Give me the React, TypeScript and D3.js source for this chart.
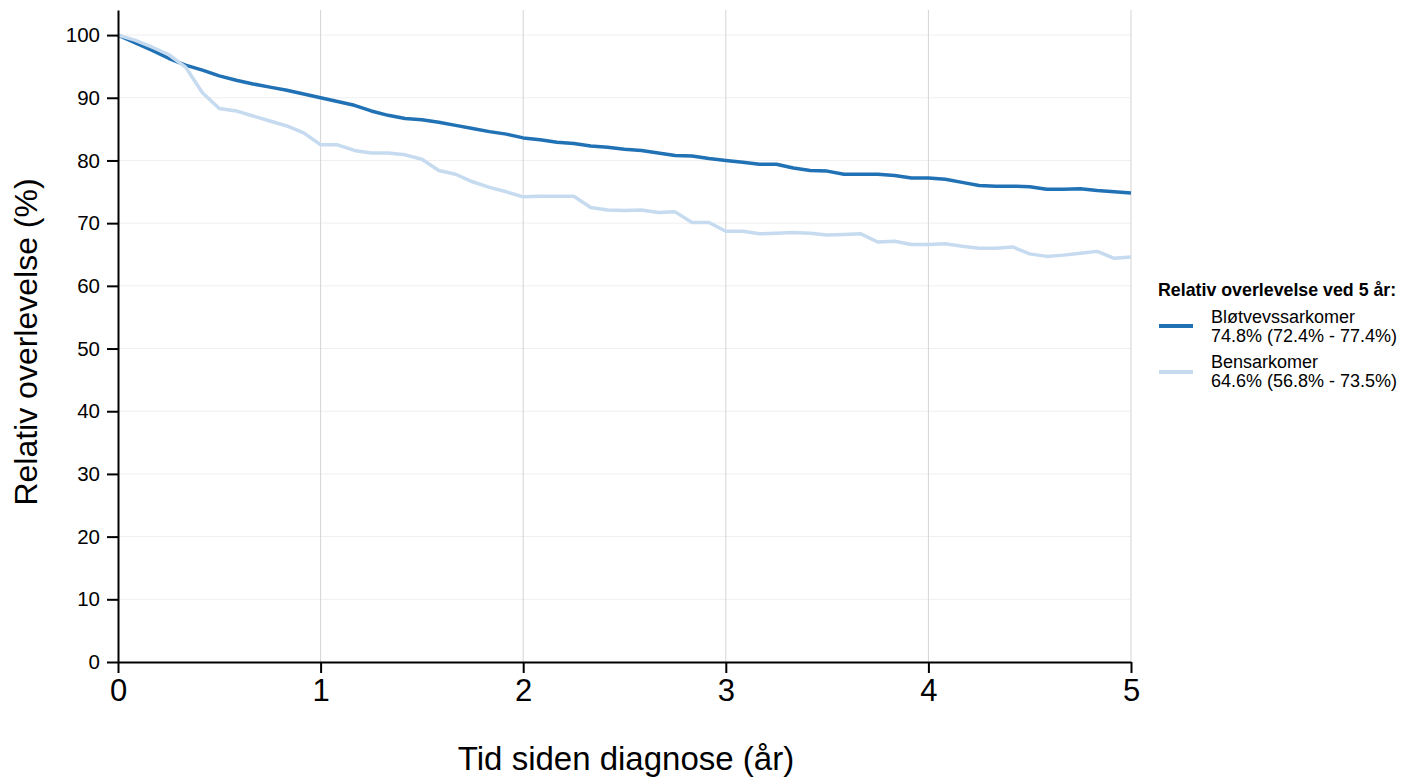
import React, { useEffect, useRef } from 'react';
import * as d3 from 'd3';

// months 0..60
const months = d3.range(0, 61);

const softTissue = [
  100, 98.8, 97.6, 96.3, 95.2, 94.4, 93.5, 92.8, 92.2, 91.7, 91.2, 90.6,
  90.0, 89.4, 88.8, 87.9, 87.2, 86.7, 86.5, 86.1, 85.6, 85.1, 84.6, 84.2,
  83.6, 83.3, 82.9, 82.7, 82.3, 82.1, 81.8, 81.6, 81.2, 80.8, 80.7, 80.3,
  80.0, 79.7, 79.4, 79.4, 78.8, 78.4, 78.3, 77.8, 77.8, 77.8, 77.6, 77.2,
  77.2, 77.0, 76.5, 76.0, 75.9, 75.9, 75.8, 75.4, 75.4, 75.5, 75.2, 75.0,
  74.8,
];

const bone = [
  100, 99.2, 98.1, 96.9, 94.9, 90.8, 88.3, 87.9, 87.1, 86.3, 85.5, 84.4,
  82.5, 82.5, 81.6, 81.2, 81.2, 80.9, 80.2, 78.4, 77.8, 76.6, 75.7, 75.0,
  74.2, 74.3, 74.3, 74.3, 72.5, 72.1, 72.0, 72.1, 71.7, 71.8, 70.1, 70.1,
  68.7, 68.7, 68.3, 68.4, 68.5, 68.4, 68.1, 68.2, 68.3, 67.0, 67.1, 66.6,
  66.6, 66.7, 66.3, 66.0, 66.0, 66.2, 65.1, 64.7, 64.9, 65.2, 65.5, 64.4,
  64.6,
];

const xTicks = [0, 1, 2, 3, 4, 5];
const yTicks = [0, 10, 20, 30, 40, 50, 60, 70, 80, 90, 100];

const seriesNames = ['Bløtvevssarkomer', 'Bensarkomer'];
const seriesLabels = ['74.8% (72.4% - 77.4%)', '64.6% (56.8% - 73.5%)'];
const seriesColors = ['#2171b5', '#c6dbef'];
const legendTitle = 'Relativ overlevelse ved 5 år:';

const FONT = '"Liberation Sans", Arial, Helvetica, sans-serif';

export default function App() {
  const svgRef = useRef<SVGSVGElement>(null);

  useEffect(() => {
    const svg = d3.select(svgRef.current);
    svg.selectAll('*').remove();

    const x = d3.scaleLinear().domain([0, 5]).range([118, 1131]);
    const y = d3.scaleLinear().domain([0, 104]).range([662, 10]);

    // horizontal grid
    svg
      .append('g')
      .selectAll('line')
      .data(yTicks.filter((d) => d > 0))
      .join('line')
      .attr('x1', x(0))
      .attr('x2', x(5))
      .attr('y1', (d) => y(d))
      .attr('y2', (d) => y(d))
      .attr('stroke', '#efefef')
      .attr('stroke-width', 1);

    // vertical grid
    svg
      .append('g')
      .selectAll('line')
      .data(xTicks.filter((d) => d > 0))
      .join('line')
      .attr('x1', (d) => x(d))
      .attr('x2', (d) => x(d))
      .attr('y1', y(104))
      .attr('y2', y(0))
      .attr('stroke', '#d4d4d4')
      .attr('stroke-width', 1);

    const line = d3
      .line<number>()
      .x((d, i) => x(months[i] / 12))
      .y((d) => y(d));

    [softTissue, bone].forEach((vals, i) => {
      svg
        .append('path')
        .datum(vals)
        .attr('fill', 'none')
        .attr('stroke', seriesColors[i])
        .attr('stroke-width', 3.5)
        .attr('stroke-linejoin', 'round')
        .attr('d', line);
    });

    // axes
    const xAxis = svg
      .append('g')
      .attr('transform', `translate(0,${y(0)})`)
      .call(d3.axisBottom(x).tickValues(xTicks).tickFormat(d3.format('d')).tickSize(11).tickSizeOuter(0).tickPadding(6));
    xAxis.select('.domain').attr('stroke', '#000').attr('stroke-width', 2);
    xAxis.selectAll('.tick line').attr('stroke', '#000').attr('stroke-width', 2);
    xAxis.selectAll('.tick text').attr('font-family', FONT).attr('font-size', 31).attr('fill', '#000');

    const yAxis = svg
      .append('g')
      .attr('transform', `translate(${x(0)},0)`)
      .call(d3.axisLeft(y).tickValues(yTicks).tickSize(11).tickSizeOuter(0).tickPadding(7));
    yAxis.select('.domain').attr('stroke', '#000').attr('stroke-width', 2);
    yAxis.selectAll('.tick line').attr('stroke', '#000').attr('stroke-width', 2);
    yAxis.selectAll('.tick text').attr('font-family', FONT).attr('font-size', 20.5).attr('fill', '#000');

    // axis titles
    svg
      .append('text')
      .attr('x', 626)
      .attr('y', 770)
      .attr('text-anchor', 'middle')
      .attr('font-family', FONT)
      .attr('font-size', 33)
      .text('Tid siden diagnose (år)');

    svg
      .append('text')
      .attr('transform', `translate(37,342) rotate(-90)`)
      .attr('text-anchor', 'middle')
      .attr('font-family', FONT)
      .attr('font-size', 32)
      .text('Relativ overlevelse (%)');

    // legend
    const legend = svg.append('g').attr('font-family', FONT);
    legend
      .append('text')
      .attr('x', 1158)
      .attr('y', 296)
      .attr('font-weight', 'bold')
      .attr('font-size', 17.8)
      .text(legendTitle);

    seriesNames.forEach((name, i) => {
      const top = 323 + i * 45;
      legend
        .append('line')
        .attr('x1', 1159)
        .attr('x2', 1193)
        .attr('y1', top + 3 + i)
        .attr('y2', top + 3 + i)
        .attr('stroke', seriesColors[i])
        .attr('stroke-width', 4);
      legend
        .append('text')
        .attr('x', 1211)
        .attr('y', top)
        .attr('font-size', 18)
        .text(name);
      legend
        .append('text')
        .attr('x', 1211)
        .attr('y', top + 19)
        .attr('font-size', 18)
        .text(seriesLabels[i]);
    });
  }, []);

  return (
    <svg
      ref={svgRef}
      width={1414}
      height={777}
      style={{ position: 'absolute', left: 0, top: 0, background: '#fff' }}
    />
  );
}
